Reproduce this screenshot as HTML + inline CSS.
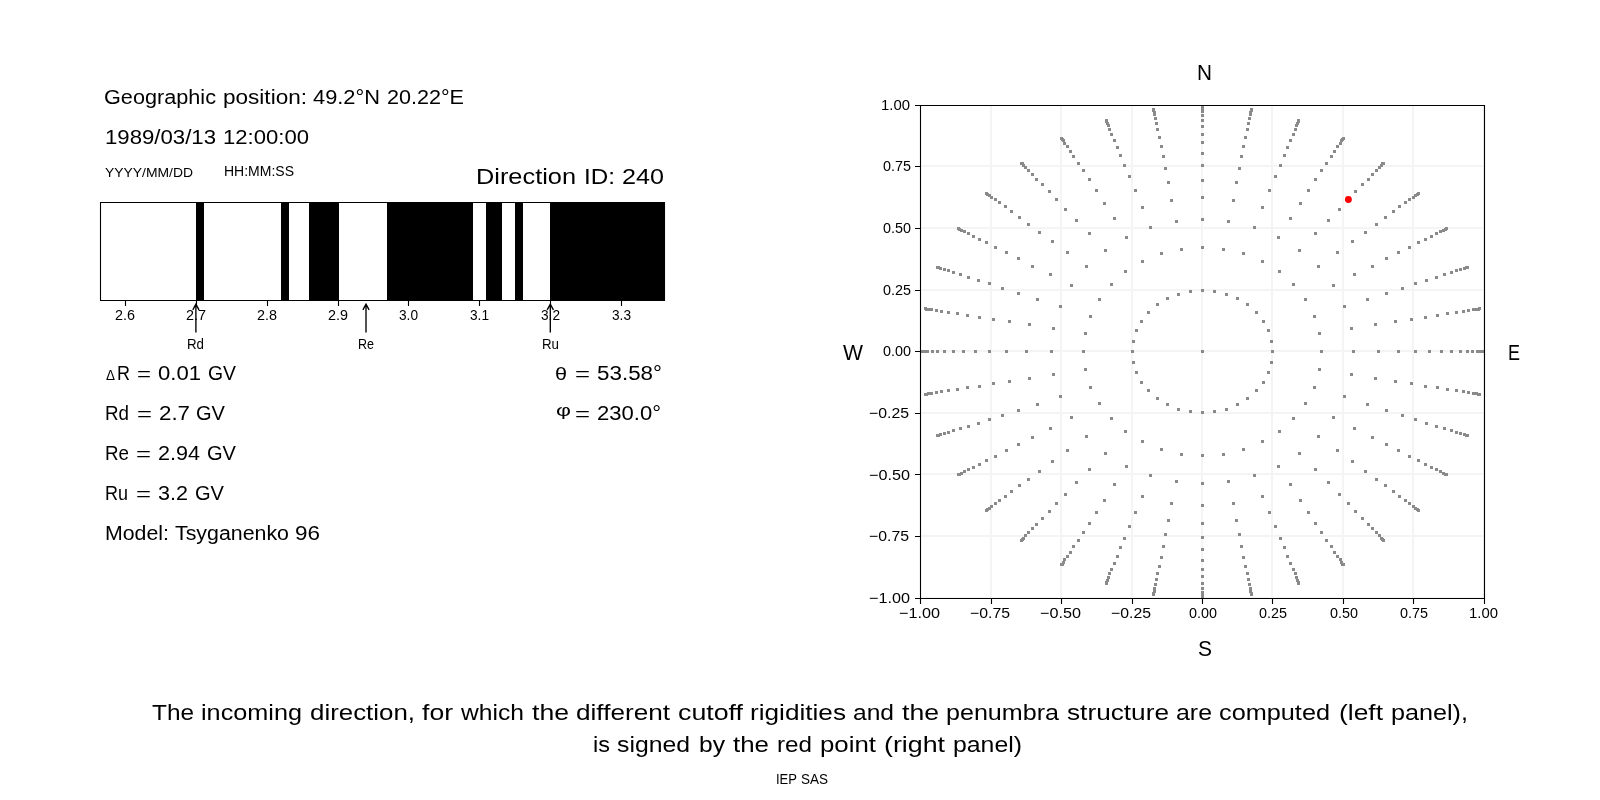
<!DOCTYPE html><html><head><meta charset="utf-8"><style>html,body{margin:0;padding:0;background:#fff;overflow:hidden}svg{display:block}text{fill:#000;font-family:"Liberation Sans",sans-serif}svg{will-change:transform}</style></head><body>
<svg width="1600" height="800" viewBox="0 0 1600 800">
<rect x="0" y="0" width="1600" height="800" fill="#fff"/>
<path d="M196 202H204V301H196ZM281 202H289V301H281ZM309 202H339V301H309ZM387 202H473V301H387ZM486 202H502V301H486ZM515 202H523V301H515ZM550 202H665V301H550Z" fill="#000"/>
<path d="M100.5 202V301M100 202.5H665M100 300.5H665M664.5 202V301" stroke="#000" stroke-width="1.1" fill="none"/>
<path d="M125.5 300V306M196.5 300V306M267.5 300V306M338.5 300V306M408.5 300V306M479.5 300V306M550.5 300V306M621.5 300V306" stroke="#000" stroke-width="1.1" fill="none"/>
<path d="M195.90 332.6V304.4M192.80 309.8L195.90 304.2L199.00 309.8M366.00 332.6V304.4M362.90 309.8L366.00 304.2L369.10 309.8M550.30 332.6V304.4M547.20 309.8L550.30 304.2L553.40 309.8" stroke="#000" stroke-width="1.35" fill="none" stroke-linecap="butt" stroke-linejoin="miter"/>
<clipPath id="c"><rect x="921" y="105.3" width="563.34" height="492.8"/></clipPath>
<path clip-path="url(#c)" d="M920 598.1V105.3M920.66 598H1484.34M991 598.1V105.3M920.66 536H1484.34M1061 598.1V105.3M920.66 474H1484.34M1132 598.1V105.3M920.66 413H1484.34M1202 598.1V105.3M920.66 351H1484.34M1272 598.1V105.3M920.66 290H1484.34M1343 598.1V105.3M920.66 228H1484.34M1413 598.1V105.3M920.66 166H1484.34M1484 598.1V105.3M920.66 105H1484.34" stroke="#f4f4f4" stroke-width="2" fill="none"/>
<path clip-path="url(#c)" d="M1271 350h3v3h-3zM1270 340h3v3h-3zM1267 329h3v3h-3zM1262 320h3v3h-3zM1255 311h3v3h-3zM1246 303h3v3h-3zM1236 297h3v3h-3zM1225 293h3v3h-3zM1213 290h3v3h-3zM1201 289h3v3h-3zM1189 290h3v3h-3zM1177 293h3v3h-3zM1166 297h3v3h-3zM1156 303h3v3h-3zM1147 311h3v3h-3zM1140 320h3v3h-3zM1135 329h3v3h-3zM1132 340h3v3h-3zM1131 350h3v3h-3zM1132 361h3v3h-3zM1135 371h3v3h-3zM1140 381h3v3h-3zM1147 389h3v3h-3zM1156 397h3v3h-3zM1166 403h3v3h-3zM1177 408h3v3h-3zM1189 410h3v3h-3zM1201 411h3v3h-3zM1213 410h3v3h-3zM1225 408h3v3h-3zM1236 403h3v3h-3zM1246 397h3v3h-3zM1255 389h3v3h-3zM1262 381h3v3h-3zM1267 371h3v3h-3zM1270 361h3v3h-3zM1320 350h3v3h-3zM1318 332h3v3h-3zM1313 315h3v3h-3zM1304 298h3v3h-3zM1292 283h3v3h-3zM1278 270h3v3h-3zM1261 260h3v3h-3zM1242 252h3v3h-3zM1222 248h3v3h-3zM1201 246h3v3h-3zM1180 248h3v3h-3zM1160 252h3v3h-3zM1141 260h3v3h-3zM1124 270h3v3h-3zM1110 283h3v3h-3zM1098 298h3v3h-3zM1089 315h3v3h-3zM1084 332h3v3h-3zM1082 350h3v3h-3zM1084 368h3v3h-3zM1089 386h3v3h-3zM1098 402h3v3h-3zM1110 417h3v3h-3zM1124 430h3v3h-3zM1141 440h3v3h-3zM1160 448h3v3h-3zM1180 453h3v3h-3zM1201 454h3v3h-3zM1222 453h3v3h-3zM1242 448h3v3h-3zM1261 440h3v3h-3zM1278 430h3v3h-3zM1292 417h3v3h-3zM1304 402h3v3h-3zM1313 386h3v3h-3zM1318 368h3v3h-3zM1352 350h3v3h-3zM1350 327h3v3h-3zM1343 305h3v3h-3zM1332 284h3v3h-3zM1317 265h3v3h-3zM1298 249h3v3h-3zM1277 236h3v3h-3zM1253 226h3v3h-3zM1227 220h3v3h-3zM1201 218h3v3h-3zM1175 220h3v3h-3zM1149 226h3v3h-3zM1125 236h3v3h-3zM1104 249h3v3h-3zM1085 265h3v3h-3zM1070 284h3v3h-3zM1059 305h3v3h-3zM1052 327h3v3h-3zM1050 350h3v3h-3zM1052 373h3v3h-3zM1059 395h3v3h-3zM1070 416h3v3h-3zM1085 435h3v3h-3zM1104 452h3v3h-3zM1125 465h3v3h-3zM1149 474h3v3h-3zM1175 480h3v3h-3zM1201 482h3v3h-3zM1227 480h3v3h-3zM1253 474h3v3h-3zM1277 465h3v3h-3zM1298 452h3v3h-3zM1317 435h3v3h-3zM1332 416h3v3h-3zM1343 395h3v3h-3zM1350 373h3v3h-3zM1377 350h3v3h-3zM1374 323h3v3h-3zM1366 298h3v3h-3zM1353 273h3v3h-3zM1336 251h3v3h-3zM1314 232h3v3h-3zM1289 217h3v3h-3zM1261 206h3v3h-3zM1232 199h3v3h-3zM1201 196h3v3h-3zM1170 199h3v3h-3zM1141 206h3v3h-3zM1113 217h3v3h-3zM1088 232h3v3h-3zM1066 251h3v3h-3zM1049 273h3v3h-3zM1036 298h3v3h-3zM1028 323h3v3h-3zM1025 350h3v3h-3zM1028 377h3v3h-3zM1036 403h3v3h-3zM1049 427h3v3h-3zM1066 449h3v3h-3zM1088 468h3v3h-3zM1113 483h3v3h-3zM1141 495h3v3h-3zM1170 502h3v3h-3zM1201 504h3v3h-3zM1232 502h3v3h-3zM1261 495h3v3h-3zM1289 483h3v3h-3zM1314 468h3v3h-3zM1336 449h3v3h-3zM1353 427h3v3h-3zM1366 403h3v3h-3zM1374 377h3v3h-3zM1397 350h3v3h-3zM1394 320h3v3h-3zM1385 292h3v3h-3zM1371 265h3v3h-3zM1351 240h3v3h-3zM1327 219h3v3h-3zM1299 202h3v3h-3zM1268 189h3v3h-3zM1235 181h3v3h-3zM1201 179h3v3h-3zM1167 181h3v3h-3zM1134 189h3v3h-3zM1103 202h3v3h-3zM1075 219h3v3h-3zM1051 240h3v3h-3zM1031 265h3v3h-3zM1017 292h3v3h-3zM1008 320h3v3h-3zM1005 350h3v3h-3zM1008 380h3v3h-3zM1017 409h3v3h-3zM1031 436h3v3h-3zM1051 460h3v3h-3zM1075 481h3v3h-3zM1103 499h3v3h-3zM1134 511h3v3h-3zM1167 519h3v3h-3zM1201 522h3v3h-3zM1235 519h3v3h-3zM1268 511h3v3h-3zM1299 499h3v3h-3zM1327 481h3v3h-3zM1351 460h3v3h-3zM1371 436h3v3h-3zM1385 409h3v3h-3zM1394 380h3v3h-3zM1414 350h3v3h-3zM1410 318h3v3h-3zM1401 287h3v3h-3zM1385 257h3v3h-3zM1364 231h3v3h-3zM1338 208h3v3h-3zM1307 189h3v3h-3zM1274 175h3v3h-3zM1238 167h3v3h-3zM1201 164h3v3h-3zM1164 167h3v3h-3zM1128 175h3v3h-3zM1095 189h3v3h-3zM1064 208h3v3h-3zM1038 231h3v3h-3zM1017 257h3v3h-3zM1001 287h3v3h-3zM992 318h3v3h-3zM988 350h3v3h-3zM992 382h3v3h-3zM1001 414h3v3h-3zM1017 443h3v3h-3zM1038 470h3v3h-3zM1064 493h3v3h-3zM1095 511h3v3h-3zM1128 525h3v3h-3zM1164 533h3v3h-3zM1201 536h3v3h-3zM1238 533h3v3h-3zM1274 525h3v3h-3zM1307 511h3v3h-3zM1338 493h3v3h-3zM1364 470h3v3h-3zM1385 443h3v3h-3zM1401 414h3v3h-3zM1410 382h3v3h-3zM1428 350h3v3h-3zM1424 316h3v3h-3zM1414 282h3v3h-3zM1397 251h3v3h-3zM1375 223h3v3h-3zM1347 198h3v3h-3zM1314 178h3v3h-3zM1279 164h3v3h-3zM1240 155h3v3h-3zM1201 152h3v3h-3zM1162 155h3v3h-3zM1123 164h3v3h-3zM1088 178h3v3h-3zM1055 198h3v3h-3zM1027 223h3v3h-3zM1005 251h3v3h-3zM988 282h3v3h-3zM978 316h3v3h-3zM974 350h3v3h-3zM978 385h3v3h-3zM988 418h3v3h-3zM1005 449h3v3h-3zM1027 478h3v3h-3zM1055 502h3v3h-3zM1088 522h3v3h-3zM1123 537h3v3h-3zM1162 545h3v3h-3zM1201 548h3v3h-3zM1240 545h3v3h-3zM1279 537h3v3h-3zM1314 522h3v3h-3zM1347 502h3v3h-3zM1375 478h3v3h-3zM1397 449h3v3h-3zM1414 418h3v3h-3zM1424 385h3v3h-3zM1440 350h3v3h-3zM1436 314h3v3h-3zM1425 279h3v3h-3zM1408 246h3v3h-3zM1384 216h3v3h-3zM1354 190h3v3h-3zM1320 169h3v3h-3zM1283 154h3v3h-3zM1242 145h3v3h-3zM1201 141h3v3h-3zM1160 145h3v3h-3zM1119 154h3v3h-3zM1082 169h3v3h-3zM1048 190h3v3h-3zM1018 216h3v3h-3zM994 246h3v3h-3zM977 279h3v3h-3zM966 314h3v3h-3zM962 350h3v3h-3zM966 386h3v3h-3zM977 422h3v3h-3zM994 455h3v3h-3zM1018 484h3v3h-3zM1048 510h3v3h-3zM1082 531h3v3h-3zM1119 546h3v3h-3zM1160 556h3v3h-3zM1201 559h3v3h-3zM1242 556h3v3h-3zM1283 546h3v3h-3zM1320 531h3v3h-3zM1354 510h3v3h-3zM1384 484h3v3h-3zM1408 455h3v3h-3zM1425 422h3v3h-3zM1436 386h3v3h-3zM1450 350h3v3h-3zM1446 312h3v3h-3zM1435 276h3v3h-3zM1417 241h3v3h-3zM1392 210h3v3h-3zM1361 183h3v3h-3zM1325 162h3v3h-3zM1286 146h3v3h-3zM1244 136h3v3h-3zM1201 133h3v3h-3zM1158 136h3v3h-3zM1116 146h3v3h-3zM1077 162h3v3h-3zM1041 183h3v3h-3zM1010 210h3v3h-3zM985 241h3v3h-3zM967 276h3v3h-3zM956 312h3v3h-3zM952 350h3v3h-3zM956 388h3v3h-3zM967 425h3v3h-3zM985 459h3v3h-3zM1010 490h3v3h-3zM1041 517h3v3h-3zM1077 539h3v3h-3zM1116 555h3v3h-3zM1158 565h3v3h-3zM1201 568h3v3h-3zM1244 565h3v3h-3zM1286 555h3v3h-3zM1325 539h3v3h-3zM1361 517h3v3h-3zM1392 490h3v3h-3zM1417 459h3v3h-3zM1435 425h3v3h-3zM1446 388h3v3h-3zM1459 350h3v3h-3zM1455 311h3v3h-3zM1443 273h3v3h-3zM1424 238h3v3h-3zM1398 205h3v3h-3zM1367 178h3v3h-3zM1330 155h3v3h-3zM1289 139h3v3h-3zM1246 128h3v3h-3zM1201 125h3v3h-3zM1156 128h3v3h-3zM1113 139h3v3h-3zM1072 155h3v3h-3zM1035 178h3v3h-3zM1004 205h3v3h-3zM978 238h3v3h-3zM959 273h3v3h-3zM947 311h3v3h-3zM943 350h3v3h-3zM947 389h3v3h-3zM959 427h3v3h-3zM978 463h3v3h-3zM1004 495h3v3h-3zM1035 523h3v3h-3zM1072 545h3v3h-3zM1113 562h3v3h-3zM1156 572h3v3h-3zM1201 575h3v3h-3zM1246 572h3v3h-3zM1289 562h3v3h-3zM1330 545h3v3h-3zM1367 523h3v3h-3zM1398 495h3v3h-3zM1424 463h3v3h-3zM1443 427h3v3h-3zM1455 389h3v3h-3zM1466 350h3v3h-3zM1462 310h3v3h-3zM1450 271h3v3h-3zM1430 235h3v3h-3zM1404 201h3v3h-3zM1371 173h3v3h-3zM1333 150h3v3h-3zM1292 133h3v3h-3zM1247 122h3v3h-3zM1201 119h3v3h-3zM1155 122h3v3h-3zM1110 133h3v3h-3zM1069 150h3v3h-3zM1031 173h3v3h-3zM998 201h3v3h-3zM972 235h3v3h-3zM952 271h3v3h-3zM940 310h3v3h-3zM936 350h3v3h-3zM940 390h3v3h-3zM952 429h3v3h-3zM972 466h3v3h-3zM998 499h3v3h-3zM1031 527h3v3h-3zM1069 551h3v3h-3zM1110 568h3v3h-3zM1155 578h3v3h-3zM1201 582h3v3h-3zM1247 578h3v3h-3zM1292 568h3v3h-3zM1333 551h3v3h-3zM1371 527h3v3h-3zM1404 499h3v3h-3zM1430 466h3v3h-3zM1450 429h3v3h-3zM1462 390h3v3h-3zM1471 350h3v3h-3zM1467 309h3v3h-3zM1455 269h3v3h-3zM1435 232h3v3h-3zM1408 198h3v3h-3zM1375 169h3v3h-3zM1336 145h3v3h-3zM1294 128h3v3h-3zM1248 117h3v3h-3zM1201 114h3v3h-3zM1154 117h3v3h-3zM1108 128h3v3h-3zM1066 145h3v3h-3zM1027 169h3v3h-3zM994 198h3v3h-3zM967 232h3v3h-3zM947 269h3v3h-3zM935 309h3v3h-3zM931 350h3v3h-3zM935 391h3v3h-3zM947 431h3v3h-3zM967 468h3v3h-3zM994 502h3v3h-3zM1027 531h3v3h-3zM1066 555h3v3h-3zM1108 572h3v3h-3zM1154 583h3v3h-3zM1201 587h3v3h-3zM1248 583h3v3h-3zM1294 572h3v3h-3zM1336 555h3v3h-3zM1375 531h3v3h-3zM1408 502h3v3h-3zM1435 468h3v3h-3zM1455 431h3v3h-3zM1467 391h3v3h-3zM1476 350h3v3h-3zM1472 308h3v3h-3zM1459 268h3v3h-3zM1439 230h3v3h-3zM1412 196h3v3h-3zM1378 166h3v3h-3zM1339 142h3v3h-3zM1295 124h3v3h-3zM1249 113h3v3h-3zM1201 110h3v3h-3zM1153 113h3v3h-3zM1107 124h3v3h-3zM1063 142h3v3h-3zM1024 166h3v3h-3zM990 196h3v3h-3zM963 230h3v3h-3zM943 268h3v3h-3zM930 308h3v3h-3zM926 350h3v3h-3zM930 392h3v3h-3zM943 432h3v3h-3zM963 470h3v3h-3zM990 505h3v3h-3zM1024 534h3v3h-3zM1063 558h3v3h-3zM1107 576h3v3h-3zM1153 587h3v3h-3zM1201 591h3v3h-3zM1249 587h3v3h-3zM1295 576h3v3h-3zM1339 558h3v3h-3zM1378 534h3v3h-3zM1412 505h3v3h-3zM1439 470h3v3h-3zM1459 432h3v3h-3zM1472 392h3v3h-3zM1479 350h3v3h-3zM1475 308h3v3h-3zM1463 267h3v3h-3zM1442 229h3v3h-3zM1414 194h3v3h-3zM1380 164h3v3h-3zM1340 139h3v3h-3zM1296 122h3v3h-3zM1249 111h3v3h-3zM1201 107h3v3h-3zM1153 111h3v3h-3zM1106 122h3v3h-3zM1062 139h3v3h-3zM1022 164h3v3h-3zM988 194h3v3h-3zM960 229h3v3h-3zM939 267h3v3h-3zM927 308h3v3h-3zM923 350h3v3h-3zM927 392h3v3h-3zM939 433h3v3h-3zM960 472h3v3h-3zM988 507h3v3h-3zM1022 537h3v3h-3zM1062 561h3v3h-3zM1106 579h3v3h-3zM1153 590h3v3h-3zM1201 594h3v3h-3zM1249 590h3v3h-3zM1296 579h3v3h-3zM1340 561h3v3h-3zM1380 537h3v3h-3zM1414 507h3v3h-3zM1442 472h3v3h-3zM1463 433h3v3h-3zM1475 392h3v3h-3zM1482 350h3v3h-3zM1477 308h3v3h-3zM1465 266h3v3h-3zM1444 228h3v3h-3zM1416 193h3v3h-3zM1381 162h3v3h-3zM1341 138h3v3h-3zM1297 120h3v3h-3zM1250 109h3v3h-3zM1201 105h3v3h-3zM1152 109h3v3h-3zM1105 120h3v3h-3zM1061 138h3v3h-3zM1021 162h3v3h-3zM986 193h3v3h-3zM958 228h3v3h-3zM937 266h3v3h-3zM925 308h3v3h-3zM920 350h3v3h-3zM925 393h3v3h-3zM937 434h3v3h-3zM958 473h3v3h-3zM986 508h3v3h-3zM1021 538h3v3h-3zM1061 563h3v3h-3zM1105 581h3v3h-3zM1152 592h3v3h-3zM1201 596h3v3h-3zM1250 592h3v3h-3zM1297 581h3v3h-3zM1341 563h3v3h-3zM1381 538h3v3h-3zM1416 508h3v3h-3zM1444 473h3v3h-3zM1465 434h3v3h-3zM1477 393h3v3h-3zM1483 350h3v3h-3zM1478 307h3v3h-3zM1466 266h3v3h-3zM1445 227h3v3h-3zM1417 192h3v3h-3zM1382 162h3v3h-3zM1342 137h3v3h-3zM1297 119h3v3h-3zM1250 108h3v3h-3zM1201 104h3v3h-3zM1152 108h3v3h-3zM1105 119h3v3h-3zM1060 137h3v3h-3zM1020 162h3v3h-3zM985 192h3v3h-3zM957 227h3v3h-3zM936 266h3v3h-3zM924 307h3v3h-3zM919 350h3v3h-3zM924 393h3v3h-3zM936 434h3v3h-3zM957 473h3v3h-3zM985 509h3v3h-3zM1020 539h3v3h-3zM1060 563h3v3h-3zM1105 582h3v3h-3zM1152 593h3v3h-3zM1201 596h3v3h-3zM1250 593h3v3h-3zM1297 582h3v3h-3zM1342 563h3v3h-3zM1382 539h3v3h-3zM1417 509h3v3h-3zM1445 473h3v3h-3zM1466 434h3v3h-3zM1478 393h3v3h-3zM1201 350h3v3h-3z" fill="#8a8a8a"/>
<circle cx="1348.4" cy="199.5" r="3.45" fill="#ff0000"/>
<path d="M920.5 105V599M1484.5 105V599M920 105.5H1485M920 598.5H1485" stroke="#000" stroke-width="1.1" fill="none"/>
<path d="M920.5 598V604M915 598.5H921M991.5 598V604M915 536.5H921M1061.5 598V604M915 474.5H921M1132.5 598V604M915 413.5H921M1202.5 598V604M915 351.5H921M1272.5 598V604M915 290.5H921M1343.5 598V604M915 228.5H921M1413.5 598V604M915 166.5H921M1484.5 598V604M915 105.5H921" stroke="#000" stroke-width="1.1" fill="none"/>
<g>
<text x="104.00" y="104.00" font-size="20.61" textLength="112.00" lengthAdjust="spacingAndGlyphs" font-family="'Liberation Sans'">Geographic</text>
<text x="223.00" y="104.00" font-size="20.61" textLength="84.00" lengthAdjust="spacingAndGlyphs" font-family="'Liberation Sans'">position:</text>
<text x="313.00" y="104.00" font-size="19.34" textLength="67.00" lengthAdjust="spacingAndGlyphs" font-family="'Liberation Sans'">49.2°N</text>
<text x="387.00" y="104.00" font-size="19.34" textLength="77.00" lengthAdjust="spacingAndGlyphs" font-family="'Liberation Sans'">20.22°E</text>
<text x="105.00" y="144.00" font-size="19.34" textLength="111.00" lengthAdjust="spacingAndGlyphs" font-family="'Liberation Sans'">1989/03/13</text>
<text x="223.00" y="144.00" font-size="20.61" textLength="86.00" lengthAdjust="spacingAndGlyphs" font-family="'Liberation Sans'">12:00:00</text>
<text x="105.00" y="176.80" font-size="13.50" textLength="88.00" lengthAdjust="spacingAndGlyphs" font-family="'Liberation Sans'">YYYY/MM/DD</text>
<text x="224.00" y="176.00" font-size="14.72" textLength="70.00" lengthAdjust="spacingAndGlyphs" font-family="'Liberation Sans'">HH:MM:SS</text>
<text x="476.00" y="184.00" font-size="22.33" textLength="100.00" lengthAdjust="spacingAndGlyphs" font-family="'Liberation Sans'">Direction</text>
<text x="584.00" y="184.00" font-size="22.26" textLength="31.00" lengthAdjust="spacingAndGlyphs" font-family="'Liberation Sans'">ID:</text>
<text x="622.00" y="184.00" font-size="22.26" textLength="42.00" lengthAdjust="spacingAndGlyphs" font-family="'Liberation Sans'">240</text>
<text x="117.00" y="380.00" font-size="20.61" textLength="13.00" lengthAdjust="spacingAndGlyphs" font-family="'Liberation Sans'">R</text>
<text x="137.00" y="380.00" font-size="18.97" textLength="14.00" lengthAdjust="spacingAndGlyphs" font-family="'Liberation Sans'">=</text>
<text x="158.00" y="380.00" font-size="20.61" textLength="43.00" lengthAdjust="spacingAndGlyphs" font-family="'Liberation Sans'">0.01</text>
<text x="208.00" y="380.00" font-size="20.61" textLength="28.00" lengthAdjust="spacingAndGlyphs" font-family="'Liberation Sans'">GV</text>
<text x="105.00" y="420.00" font-size="20.61" textLength="24.00" lengthAdjust="spacingAndGlyphs" font-family="'Liberation Sans'">Rd</text>
<text x="137.00" y="420.00" font-size="18.97" textLength="15.00" lengthAdjust="spacingAndGlyphs" font-family="'Liberation Sans'">=</text>
<text x="159.00" y="420.00" font-size="20.61" textLength="31.00" lengthAdjust="spacingAndGlyphs" font-family="'Liberation Sans'">2.7</text>
<text x="196.00" y="420.00" font-size="20.61" textLength="29.00" lengthAdjust="spacingAndGlyphs" font-family="'Liberation Sans'">GV</text>
<text x="105.00" y="460.00" font-size="20.61" textLength="24.00" lengthAdjust="spacingAndGlyphs" font-family="'Liberation Sans'">Re</text>
<text x="136.00" y="460.00" font-size="18.97" textLength="15.00" lengthAdjust="spacingAndGlyphs" font-family="'Liberation Sans'">=</text>
<text x="158.00" y="460.00" font-size="20.61" textLength="42.00" lengthAdjust="spacingAndGlyphs" font-family="'Liberation Sans'">2.94</text>
<text x="207.00" y="460.00" font-size="20.61" textLength="29.00" lengthAdjust="spacingAndGlyphs" font-family="'Liberation Sans'">GV</text>
<text x="105.00" y="500.00" font-size="20.61" textLength="23.00" lengthAdjust="spacingAndGlyphs" font-family="'Liberation Sans'">Ru</text>
<text x="136.00" y="500.00" font-size="18.97" textLength="15.00" lengthAdjust="spacingAndGlyphs" font-family="'Liberation Sans'">=</text>
<text x="158.00" y="500.00" font-size="20.61" textLength="30.00" lengthAdjust="spacingAndGlyphs" font-family="'Liberation Sans'">3.2</text>
<text x="195.00" y="500.00" font-size="20.61" textLength="29.00" lengthAdjust="spacingAndGlyphs" font-family="'Liberation Sans'">GV</text>
<text x="105.00" y="540.00" font-size="20.61" textLength="64.00" lengthAdjust="spacingAndGlyphs" font-family="'Liberation Sans'">Model:</text>
<text x="175.00" y="540.00" font-size="20.61" textLength="114.00" lengthAdjust="spacingAndGlyphs" font-family="'Liberation Sans'">Tsyganenko</text>
<text x="295.00" y="540.00" font-size="20.61" textLength="25.00" lengthAdjust="spacingAndGlyphs" font-family="'Liberation Sans'">96</text>
<text x="575.00" y="380.00" font-size="18.97" textLength="15.00" lengthAdjust="spacingAndGlyphs" font-family="'Liberation Sans'">=</text>
<text x="597.00" y="380.00" font-size="19.34" textLength="65.00" lengthAdjust="spacingAndGlyphs" font-family="'Liberation Sans'">53.58°</text>
<text x="575.00" y="420.00" font-size="18.97" textLength="15.00" lengthAdjust="spacingAndGlyphs" font-family="'Liberation Sans'">=</text>
<text x="597.00" y="420.00" font-size="19.34" textLength="64.00" lengthAdjust="spacingAndGlyphs" font-family="'Liberation Sans'">230.0°</text>
<text x="152.00" y="720.00" font-size="22.33" textLength="42.00" lengthAdjust="spacingAndGlyphs" font-family="'Liberation Sans'">The</text>
<text x="201.00" y="720.00" font-size="22.33" textLength="101.00" lengthAdjust="spacingAndGlyphs" font-family="'Liberation Sans'">incoming</text>
<text x="310.00" y="720.00" font-size="22.33" textLength="105.00" lengthAdjust="spacingAndGlyphs" font-family="'Liberation Sans'">direction,</text>
<text x="422.00" y="720.00" font-size="22.33" textLength="31.00" lengthAdjust="spacingAndGlyphs" font-family="'Liberation Sans'">for</text>
<text x="461.00" y="720.00" font-size="22.33" textLength="63.00" lengthAdjust="spacingAndGlyphs" font-family="'Liberation Sans'">which</text>
<text x="532.00" y="720.00" font-size="22.33" textLength="37.00" lengthAdjust="spacingAndGlyphs" font-family="'Liberation Sans'">the</text>
<text x="576.00" y="720.00" font-size="22.33" textLength="94.00" lengthAdjust="spacingAndGlyphs" font-family="'Liberation Sans'">different</text>
<text x="678.00" y="720.00" font-size="22.33" textLength="65.00" lengthAdjust="spacingAndGlyphs" font-family="'Liberation Sans'">cutoff</text>
<text x="750.00" y="720.00" font-size="22.33" textLength="96.00" lengthAdjust="spacingAndGlyphs" font-family="'Liberation Sans'">rigidities</text>
<text x="853.00" y="720.00" font-size="22.33" textLength="41.00" lengthAdjust="spacingAndGlyphs" font-family="'Liberation Sans'">and</text>
<text x="902.00" y="720.00" font-size="22.33" textLength="37.00" lengthAdjust="spacingAndGlyphs" font-family="'Liberation Sans'">the</text>
<text x="946.00" y="720.00" font-size="22.33" textLength="113.00" lengthAdjust="spacingAndGlyphs" font-family="'Liberation Sans'">penumbra</text>
<text x="1067.00" y="720.00" font-size="22.08" textLength="102.00" lengthAdjust="spacingAndGlyphs" font-family="'Liberation Sans'">structure</text>
<text x="1176.00" y="720.00" font-size="21.74" textLength="36.00" lengthAdjust="spacingAndGlyphs" font-family="'Liberation Sans'">are</text>
<text x="1219.00" y="720.00" font-size="22.33" textLength="111.00" lengthAdjust="spacingAndGlyphs" font-family="'Liberation Sans'">computed</text>
<text x="1339.00" y="720.00" font-size="22.33" textLength="44.00" lengthAdjust="spacingAndGlyphs" font-family="'Liberation Sans'">(left</text>
<text x="1391.00" y="720.00" font-size="22.33" textLength="77.00" lengthAdjust="spacingAndGlyphs" font-family="'Liberation Sans'">panel),</text>
<text x="593.00" y="752.00" font-size="22.33" textLength="17.00" lengthAdjust="spacingAndGlyphs" font-family="'Liberation Sans'">is</text>
<text x="617.00" y="752.00" font-size="22.33" textLength="73.00" lengthAdjust="spacingAndGlyphs" font-family="'Liberation Sans'">signed</text>
<text x="699.00" y="752.00" font-size="22.33" textLength="26.00" lengthAdjust="spacingAndGlyphs" font-family="'Liberation Sans'">by</text>
<text x="733.00" y="752.00" font-size="22.33" textLength="36.00" lengthAdjust="spacingAndGlyphs" font-family="'Liberation Sans'">the</text>
<text x="777.00" y="752.00" font-size="22.33" textLength="35.00" lengthAdjust="spacingAndGlyphs" font-family="'Liberation Sans'">red</text>
<text x="820.00" y="752.00" font-size="22.33" textLength="56.00" lengthAdjust="spacingAndGlyphs" font-family="'Liberation Sans'">point</text>
<text x="884.00" y="752.00" font-size="22.33" textLength="61.00" lengthAdjust="spacingAndGlyphs" font-family="'Liberation Sans'">(right</text>
<text x="953.00" y="752.00" font-size="22.33" textLength="69.00" lengthAdjust="spacingAndGlyphs" font-family="'Liberation Sans'">panel)</text>
<text x="776.00" y="784.00" font-size="14.72" textLength="21.00" lengthAdjust="spacingAndGlyphs" font-family="'Liberation Sans'">IEP</text>
<text x="801.00" y="784.00" font-size="14.72" textLength="27.00" lengthAdjust="spacingAndGlyphs" font-family="'Liberation Sans'">SAS</text>
<text x="1197.00" y="80.00" font-size="22.26" textLength="15.00" lengthAdjust="spacingAndGlyphs" font-family="'Liberation Sans'">N</text>
<text x="1198.00" y="656.00" font-size="22.26" textLength="14.00" lengthAdjust="spacingAndGlyphs" font-family="'Liberation Sans'">S</text>
<text x="843.00" y="360.00" font-size="22.26" textLength="20.00" lengthAdjust="spacingAndGlyphs" font-family="'Liberation Sans'">W</text>
<text x="1508.00" y="360.00" font-size="22.26" textLength="12.00" lengthAdjust="spacingAndGlyphs" font-family="'Liberation Sans'">E</text>
<text x="115.00" y="320.02" font-size="14.72" textLength="20.00" lengthAdjust="spacingAndGlyphs" font-family="'Liberation Sans'">2.6</text>
<text x="186.00" y="320.02" font-size="14.72" textLength="20.00" lengthAdjust="spacingAndGlyphs" font-family="'Liberation Sans'">2.7</text>
<text x="257.00" y="320.02" font-size="14.72" textLength="20.00" lengthAdjust="spacingAndGlyphs" font-family="'Liberation Sans'">2.8</text>
<text x="328.00" y="320.02" font-size="14.72" textLength="20.00" lengthAdjust="spacingAndGlyphs" font-family="'Liberation Sans'">2.9</text>
<text x="399.00" y="320.02" font-size="14.72" textLength="19.00" lengthAdjust="spacingAndGlyphs" font-family="'Liberation Sans'">3.0</text>
<text x="470.00" y="320.02" font-size="14.72" textLength="19.00" lengthAdjust="spacingAndGlyphs" font-family="'Liberation Sans'">3.1</text>
<text x="541.00" y="320.02" font-size="14.72" textLength="19.00" lengthAdjust="spacingAndGlyphs" font-family="'Liberation Sans'">3.2</text>
<text x="612.00" y="320.02" font-size="14.72" textLength="19.00" lengthAdjust="spacingAndGlyphs" font-family="'Liberation Sans'">3.3</text>
<text x="899.00" y="618.32" font-size="14.72" textLength="41.00" lengthAdjust="spacingAndGlyphs" font-family="'Liberation Sans'">−1.00</text>
<text x="970.00" y="618.32" font-size="14.72" textLength="40.00" lengthAdjust="spacingAndGlyphs" font-family="'Liberation Sans'">−0.75</text>
<text x="1040.00" y="618.32" font-size="14.72" textLength="41.00" lengthAdjust="spacingAndGlyphs" font-family="'Liberation Sans'">−0.50</text>
<text x="1111.00" y="618.32" font-size="14.72" textLength="40.00" lengthAdjust="spacingAndGlyphs" font-family="'Liberation Sans'">−0.25</text>
<text x="1189.00" y="618.32" font-size="14.72" textLength="28.00" lengthAdjust="spacingAndGlyphs" font-family="'Liberation Sans'">0.00</text>
<text x="1259.00" y="618.32" font-size="14.72" textLength="28.00" lengthAdjust="spacingAndGlyphs" font-family="'Liberation Sans'">0.25</text>
<text x="1330.00" y="618.32" font-size="14.72" textLength="28.00" lengthAdjust="spacingAndGlyphs" font-family="'Liberation Sans'">0.50</text>
<text x="1400.00" y="618.32" font-size="14.72" textLength="28.00" lengthAdjust="spacingAndGlyphs" font-family="'Liberation Sans'">0.75</text>
<text x="1469.00" y="618.32" font-size="14.72" textLength="29.00" lengthAdjust="spacingAndGlyphs" font-family="'Liberation Sans'">1.00</text>
<text x="869.00" y="603.10" font-size="14.72" textLength="41.00" lengthAdjust="spacingAndGlyphs" font-family="'Liberation Sans'">−1.00</text>
<text x="869.00" y="541.44" font-size="14.72" textLength="40.00" lengthAdjust="spacingAndGlyphs" font-family="'Liberation Sans'">−0.75</text>
<text x="869.00" y="479.78" font-size="14.72" textLength="41.00" lengthAdjust="spacingAndGlyphs" font-family="'Liberation Sans'">−0.50</text>
<text x="869.00" y="418.11" font-size="14.72" textLength="40.00" lengthAdjust="spacingAndGlyphs" font-family="'Liberation Sans'">−0.25</text>
<text x="883.00" y="356.45" font-size="14.72" textLength="28.00" lengthAdjust="spacingAndGlyphs" font-family="'Liberation Sans'">0.00</text>
<text x="883.00" y="294.79" font-size="14.72" textLength="28.00" lengthAdjust="spacingAndGlyphs" font-family="'Liberation Sans'">0.25</text>
<text x="883.00" y="233.12" font-size="14.72" textLength="28.00" lengthAdjust="spacingAndGlyphs" font-family="'Liberation Sans'">0.50</text>
<text x="883.00" y="171.46" font-size="14.72" textLength="28.00" lengthAdjust="spacingAndGlyphs" font-family="'Liberation Sans'">0.75</text>
<text x="881.00" y="109.80" font-size="14.72" textLength="29.00" lengthAdjust="spacingAndGlyphs" font-family="'Liberation Sans'">1.00</text>
<text x="187.00" y="349.03" font-size="14.72" textLength="17.00" lengthAdjust="spacingAndGlyphs" font-family="'Liberation Sans'">Rd</text>
<text x="358.00" y="349.03" font-size="14.72" textLength="16.00" lengthAdjust="spacingAndGlyphs" font-family="'Liberation Sans'">Re</text>
<text x="542.00" y="349.03" font-size="14.72" textLength="17.00" lengthAdjust="spacingAndGlyphs" font-family="'Liberation Sans'">Ru</text>
<text x="106.00" y="380.00" font-size="14.72" textLength="9.00" lengthAdjust="spacingAndGlyphs" font-family="'Liberation Sans'">Δ</text>
<text x="555.00" y="380.00" font-size="17.86" textLength="12.00" lengthAdjust="spacingAndGlyphs" font-family="'Liberation Serif'">θ</text>
<text x="556.00" y="416.00" font-size="16.86" textLength="15.00" lengthAdjust="spacingAndGlyphs" font-family="'Liberation Serif'">φ</text>
</g>
</svg></body></html>
